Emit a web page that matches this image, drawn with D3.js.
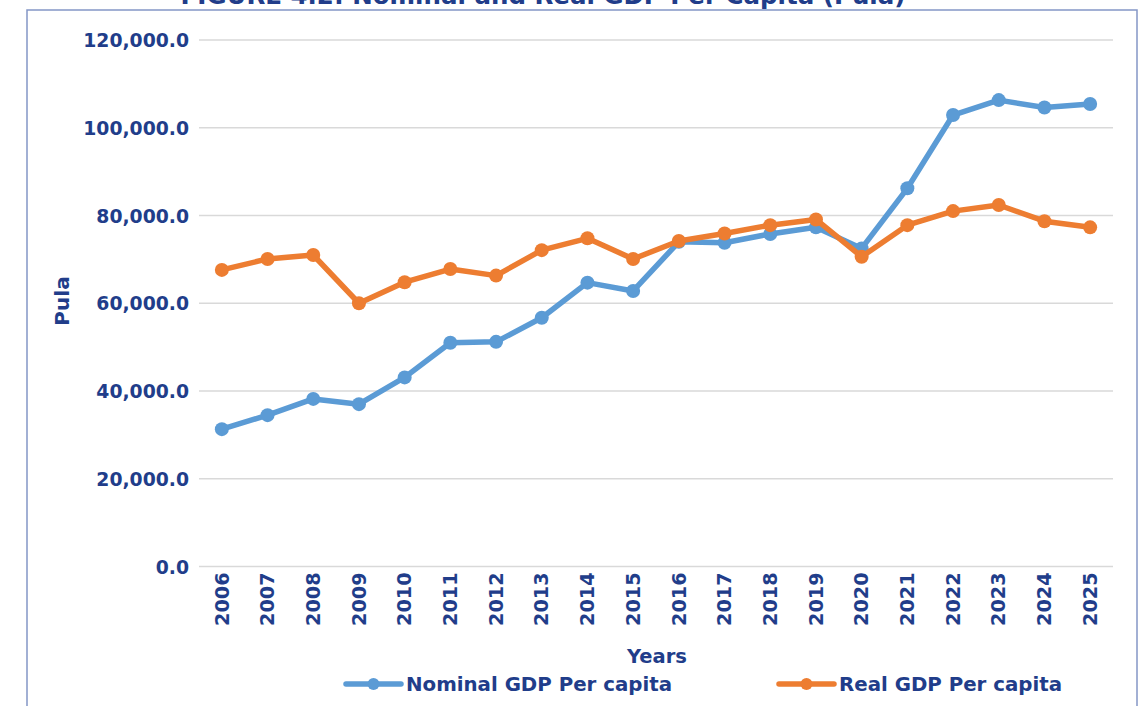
<!DOCTYPE html>
<html>
<head>
<meta charset="utf-8">
<script src="https://cdn.jsdelivr.net/npm/d3@7"></script>
<style>
  html, body { margin: 0; padding: 0; background: #fff; }
  svg { display: block; }
  text { font-family: "DejaVu Sans", sans-serif; font-weight: bold; fill: #213d8a; }
</style>
</head>
<body>
<div id="chart"></div>
<script>
const years = ["2006","2007","2008","2009","2010","2011","2012","2013","2014","2015",
               "2016","2017","2018","2019","2020","2021","2022","2023","2024","2025"];
const nominal = [31300, 34500, 38200, 37000, 43100, 51000, 51200, 56700, 64700, 62800,
                 74000, 73800, 75800, 77300, 72500, 86200, 102900, 106300, 104600, 105400];
const real = [67600, 70100, 71000, 60000, 64800, 67800, 66300, 72100, 74800, 70100,
              74200, 75900, 77800, 79100, 70600, 77800, 81000, 82400, 78700, 77300];
const yTicks = [0, 20000, 40000, 60000, 80000, 100000, 120000];

const width = 1139, height = 706;
const blue = "#5b9bd5", orange = "#ed7d31";

const svg = d3.select("#chart").append("svg")
    .attr("width", width)
    .attr("height", height);

// frame round the figure
svg.append("rect")
    .attr("x", 27).attr("y", 10)
    .attr("width", 1110).attr("height", 720)
    .attr("fill", "none")
    .attr("stroke", "#8496c6")
    .attr("stroke-width", 1.5);

// title sits above the frame and is cut by the page top, as in the source
svg.append("text")
    .attr("x", 543).attr("y", 4)
    .attr("text-anchor", "middle")
    .attr("font-size", 24.5)
    .text("FIGURE 4.2: Nominal and Real GDP Per Capita (Pula)");

const x = d3.scaleBand().domain(years).range([199, 1113]);
const y = d3.scaleLinear().domain([0, 120000]).range([566.5, 40]);
const cx = d => x(d) + x.bandwidth() / 2;

// gridlines
svg.append("g")
    .selectAll("line")
    .data(yTicks)
    .join("line")
    .attr("x1", 199).attr("x2", 1113)
    .attr("y1", d => y(d)).attr("y2", d => y(d))
    .attr("stroke", "#d9d9d9")
    .attr("stroke-width", 1.5);

// y tick labels
const yAxis = svg.append("g")
    .attr("transform", "translate(199,0)")
    .call(d3.axisLeft(y).tickValues(yTicks).tickSize(0).tickPadding(10)
        .tickFormat(d3.format(",.1f")));
yAxis.select(".domain").remove();
yAxis.selectAll("text")
    .attr("font-size", 18.8)
    .attr("font-family", "DejaVu Sans, sans-serif")
    .attr("font-weight", "bold")
    .attr("fill", "#213d8a")
    .attr("dy", "0.35em");

// x tick labels, rotated
const xAxis = svg.append("g")
    .attr("transform", "translate(0,566.5)")
    .call(d3.axisBottom(x).tickSize(0).tickPadding(0));
xAxis.select(".domain").remove();
xAxis.selectAll("text")
    .attr("font-size", 19.2)
    .attr("font-family", "DejaVu Sans, sans-serif")
    .attr("font-weight", "bold")
    .attr("fill", "#213d8a")
    .attr("text-anchor", "end")
    .attr("transform", "rotate(-90)")
    .attr("x", -6)
    .attr("y", 0)
    .attr("dy", "0.35em");

svg.append("text")
    .attr("x", 657).attr("y", 663)
    .attr("text-anchor", "middle")
    .attr("font-size", 19.5)
    .text("Years");

svg.append("text")
    .attr("transform", "translate(69,301) rotate(-90)")
    .attr("text-anchor", "middle")
    .attr("font-size", 20)
    .text("Pula");

const line = d3.line().x((d, i) => cx(years[i])).y(d => y(d));

const series = [
    { name: "Nominal GDP Per capita", values: nominal, color: blue, lx: 346 },
    { name: "Real GDP Per capita", values: real, color: orange, lx: 779 }
];

series.forEach(s => {
    svg.append("path")
        .datum(s.values)
        .attr("d", line)
        .attr("fill", "none")
        .attr("stroke", s.color)
        .attr("stroke-width", 5.5)
        .attr("stroke-linejoin", "round");
    svg.append("g")
        .selectAll("circle")
        .data(s.values)
        .join("circle")
        .attr("cx", (d, i) => cx(years[i]))
        .attr("cy", d => y(d))
        .attr("r", 7)
        .attr("fill", s.color);
});

// legend
const legend = svg.append("g");
series.forEach(s => {
    const g = legend.append("g").attr("transform", `translate(${s.lx},684)`);
    g.append("line")
        .attr("x1", 0).attr("x2", 55)
        .attr("stroke", s.color)
        .attr("stroke-width", 5.5)
        .attr("stroke-linecap", "round");
    g.append("circle").attr("cx", 27.5).attr("r", 6).attr("fill", s.color);
    g.append("text")
        .attr("x", 60).attr("y", 7)
        .attr("font-size", 19.8)
        .text(s.name);
});
</script>
</body>
</html>
